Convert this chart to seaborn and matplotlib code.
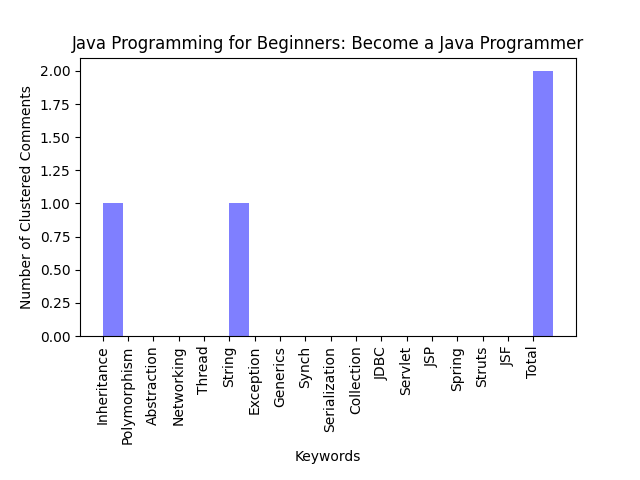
import matplotlib
matplotlib.use("Agg")
import matplotlib.pyplot as plt
import seaborn as sns
import numpy as np

keywords = ["Inheritance", "Polymorphism", "Abstraction", "Networking", "Thread",
            "String", "Exception", "Generics", "Synch", "Serialization", "Collection",
            "JDBC", "Servlet", "JSP", "Spring", "Struts", "JSF", "Total"]
counts = [1, 0, 0, 0, 0, 1, 0, 0, 0, 0, 0, 0, 0, 0, 0, 0, 0, 2]

plt.rcParams.update(matplotlib.rcParamsDefault)
plt.rcParams['font.family'] = ['DejaVu Sans']
fig, ax = plt.subplots(figsize=(6.4, 4.8), dpi=100)
pos = np.arange(len(keywords))
w = 0.8
sns.barplot(x=pos + w / 2, y=counts, native_scale=True, width=w, color='blue',
            alpha=0.5, saturation=1, linewidth=0, ax=ax)
span = len(keywords) - 1 + w
ax.set_xlim(-0.05 * span, span * 1.05)
ax.set_xticks(pos)
ax.set_xticklabels(keywords, rotation=90)
ax.set_xlabel("Keywords")
ax.set_ylabel("Number of Clustered Comments")
ax.set_title("Java Programming for Beginners: Become a Java Programmer")
fig.subplots_adjust(bottom=0.3)
fig.savefig("out.png")
